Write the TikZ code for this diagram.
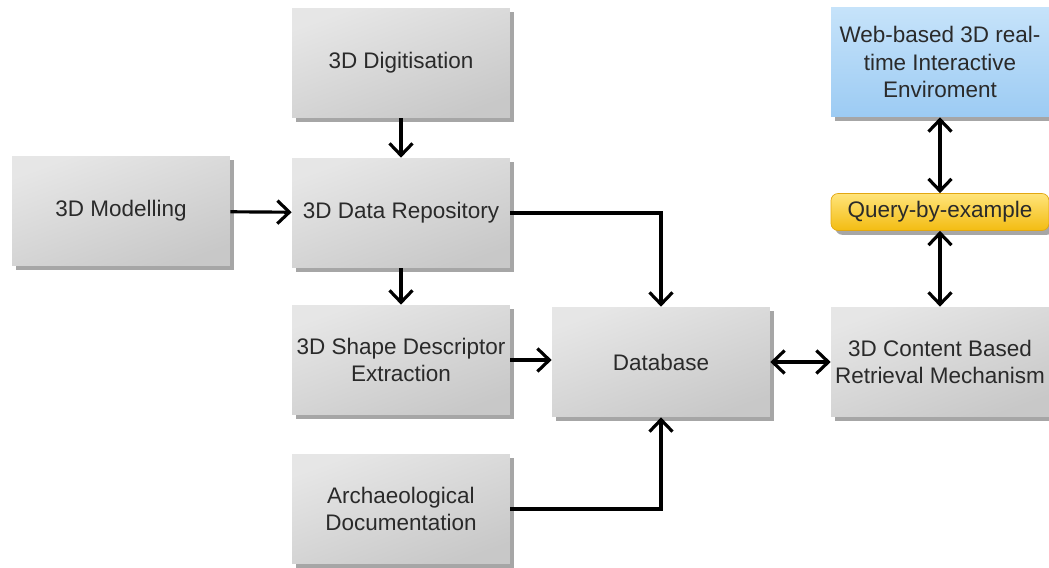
\documentclass[tikz,border=0pt]{standalone}
\usepackage{fontspec}
\setmainfont{Liberation Sans}
\usetikzlibrary{arrows.meta,shadows}
\definecolor{boxtop}{HTML}{E6E6E6}
\definecolor{boxbot}{HTML}{C8C8C8}
\definecolor{webtop}{HTML}{C6E3FA}
\definecolor{webbot}{HTML}{9CCBF3}
\definecolor{qtop}{HTML}{FFE47A}
\definecolor{qbot}{HTML}{F3BC12}
\definecolor{qline}{HTML}{E2A712}
\definecolor{txt}{HTML}{2A2A2A}
\begin{document}
\begin{tikzpicture}[x=0.02cm, y=-0.02cm,
		box/.style={minimum width=4.36cm, minimum height=2.2cm, inner sep=0pt, align=center,
			top color=boxtop, bottom color=boxbot, shading angle=20, text=txt, font=\fontsize{12.8}{15.5}\selectfont,
			drop shadow={shadow xshift=2.5pt, shadow yshift=-2.5pt, opacity=0.35, fill=black}},
		webbox/.style={box, top color=webtop, bottom color=webbot},
		querybox/.style={box, minimum height=0.74cm, rounded corners=4pt, draw=qline, top color=qtop, bottom color=qbot},
		link/.style={line width=1.8pt, -{Straight Barb[length=2.4mm, width=4.6mm]}},
		dlink/.style={link, {Straight Barb[length=2.4mm, width=4.6mm]}-{Straight Barb[length=2.4mm, width=4.6mm]}}]
		\useasboundingbox (0,0) rectangle (1049,568);
		% Left column
		\node[box] (model) at (121,211) {3D Modelling};
		% Middle column
		\node[box] (digit) at (401,63) {3D Digitisation};
		\node[box] (repo) at (401,213) {3D Data Repository};
		\node[box] (shape) at (401,360) {3D Shape Descriptor\\Extraction};
		\node[box] (arch) at (401,509) {Archaeological\\Documentation};
		\node[box] (db) at (661,362) {Database};
		% Right column
		\node[webbox] (web) at (940,62) {Web-based 3D real-\\time Interactive\\Enviroment};
		\node[querybox] (query) at (940,212) {Query-by-example};
		\node[box] (cbr) at (940,362) {3D Content Based\\Retrieval Mechanism};
		% Connectors
		\draw[link] (digit) -- (repo);
		\draw[link] (model) -- (repo);
		\draw[link] (repo) -- (shape);
		\draw[link] (repo.east) -| (db.north);
		\draw[link] (shape.east) -- (shape.east -| db.west);
		\draw[link] (arch.east) -| (db.south);
		\draw[dlink] (db) -- (cbr);
		\draw[dlink] (web) -- (query);
		\draw[dlink] (query) -- (cbr);
	\end{tikzpicture}
\end{document}
